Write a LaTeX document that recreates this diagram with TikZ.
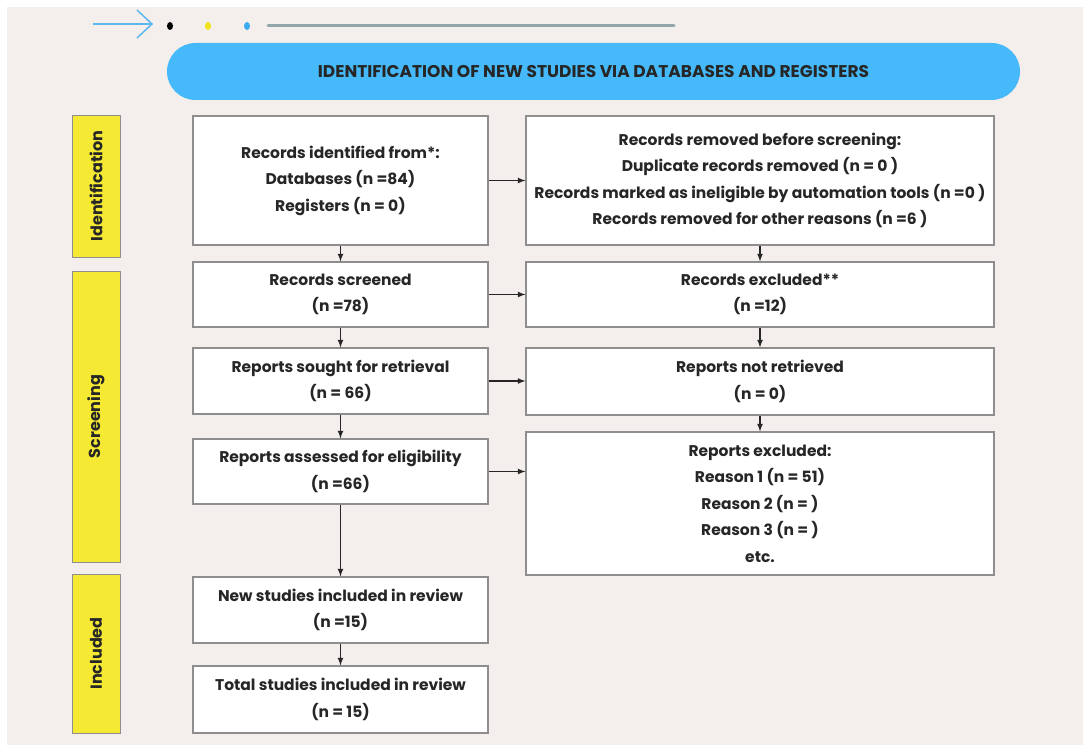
\documentclass[tikz,border=0pt]{standalone}
\usepackage{fontspec}
\setmainfont{Poppins}
\usetikzlibrary{arrows}
\definecolor{bgCol}{HTML}{F4EFEC}
\definecolor{bannerCol}{HTML}{45B9F9}
\definecolor{stageCol}{HTML}{F6E934}
\definecolor{lineCol}{HTML}{8E8E8E}
\definecolor{textCol}{HTML}{262626}
\definecolor{barCol}{HTML}{93A6AA}
\definecolor{dotBlue}{HTML}{3DA9EE}
\definecolor{arrowBlue}{HTML}{5CB8EE}
\definecolor{dotYellow}{HTML}{F2E21C}
\begin{document}
\begin{tikzpicture}[x = 1pt, y = -1pt]
\tikzstyle{boxStyle} = [draw = lineCol, line width = 1.2pt, fill = white, inner sep = 0pt, align = center, text = textCol, font = \fontsize{15.5}{26.5}\selectfont\bfseries]
\tikzstyle{stageStyle} = [draw = lineCol, line width = 0.8pt, fill = stageCol, inner sep = 0pt, rotate = 90, minimum height = 48pt, text = textCol, font = \fontsize{16}{18}\selectfont\bfseries]
\tikzstyle{bannerStyle} = [fill = bannerCol, inner sep = 0pt, rounded corners = 28.5pt, minimum width = 853pt, minimum height = 57pt, text = textCol, font = \fontsize{17}{19}\selectfont\bfseries]
\tikzstyle{arrowStyle} = [-latex, draw = textCol, line width = 1.6pt]
\useasboundingbox (0,0) rectangle (1091,751);
\fill[bgCol] (7,7) rectangle (1083,745);
\coordinate (a0) at (93,24);
\coordinate (a1) at (152,24);
\coordinate (a2) at (137,10);
\coordinate (a3) at (137,38);
\draw[arrowBlue, line width = 1.5pt] (a0) -- (a1);
\draw[arrowBlue, line width = 1.5pt, line join = miter] (a2) -- (a1) -- (a3);
\fill[black] (170,26) ellipse (3pt and 4pt);
\fill[dotYellow] (208,26) ellipse (3pt and 4pt);
\fill[dotBlue] (247,26) ellipse (3pt and 4pt);
\coordinate (g0) at (268,26);
\coordinate (g1) at (674,26);
\draw[barCol, line width = 3pt, line cap = round] (g0) -- (g1);
\node[bannerStyle] (b0) at (593.5,71.5) {IDENTIFICATION OF NEW STUDIES VIA DATABASES AND REGISTERS};
\node[stageStyle, minimum width = 142pt] (s0) at (96,186) {Identification};
\node[stageStyle, minimum width = 291pt] (s1) at (96,416.5) {Screening};
\node[stageStyle, minimum width = 159pt] (s2) at (96,653.5) {Included};
\node[boxStyle, minimum width = 295pt, minimum height = 129pt] (v0) at (340.5,180.5) {Records identified from*:\\Databases (n =84)\\Registers (n = 0)};
\node[boxStyle, minimum width = 295pt, minimum height = 65pt] (v1) at (340.5,294.5) {Records screened\\(n =78)};
\node[boxStyle, minimum width = 295pt, minimum height = 66pt] (v2) at (340.5,381) {Reports sought for retrieval\\(n = 66)};
\node[boxStyle, minimum width = 295pt, minimum height = 65pt] (v3) at (340.5,471.5) {Reports assessed for eligibility\\(n =66)};
\node[boxStyle, minimum width = 295pt, minimum height = 66pt] (v4) at (340.5,610) {New studies included in review\\(n =15)};
\node[boxStyle, minimum width = 295pt, minimum height = 67pt] (v5) at (340.5,699.5) {Total studies included in review\\(n = 15)};
\node[boxStyle, minimum width = 468pt, minimum height = 129pt] (r0) at (760,180.5) {Records removed before screening:\\Duplicate records removed (n = 0 )\\Records marked as ineligible by automation tools (n =0 )\\Records removed for other reasons (n =6 )};
\node[boxStyle, minimum width = 468pt, minimum height = 65pt] (r1) at (760,294.5) {Records excluded**\\(n =12)};
\node[boxStyle, minimum width = 468pt, minimum height = 67pt] (r2) at (760,381.5) {Reports not retrieved\\(n = 0)};
\node[boxStyle, minimum width = 468pt, minimum height = 143pt] (r3) at (760,503.5) {Reports excluded:\\Reason 1 (n = 51)\\Reason 2 (n = )\\Reason 3 (n = )\\etc.};
\draw[arrowStyle] (v0) -- (v1);
\draw[arrowStyle] (v1) -- (v2);
\draw[arrowStyle] (v2) -- (v3);
\draw[arrowStyle] (v3) -- (v4);
\draw[arrowStyle] (v4) -- (v5);
\draw[arrowStyle] (r0) -- (r1);
\draw[arrowStyle] (r1) -- (r2);
\draw[arrowStyle] (r2) -- (r3);
\draw[arrowStyle] (v0) -- (r0);
\draw[arrowStyle] (v1) -- (r1);
\draw[arrowStyle] (v2.east) -- (v2.east -| r2.west);
\draw[arrowStyle] (v3.east) -- (v3.east -| r3.west);
\end{tikzpicture}
\end{document}
